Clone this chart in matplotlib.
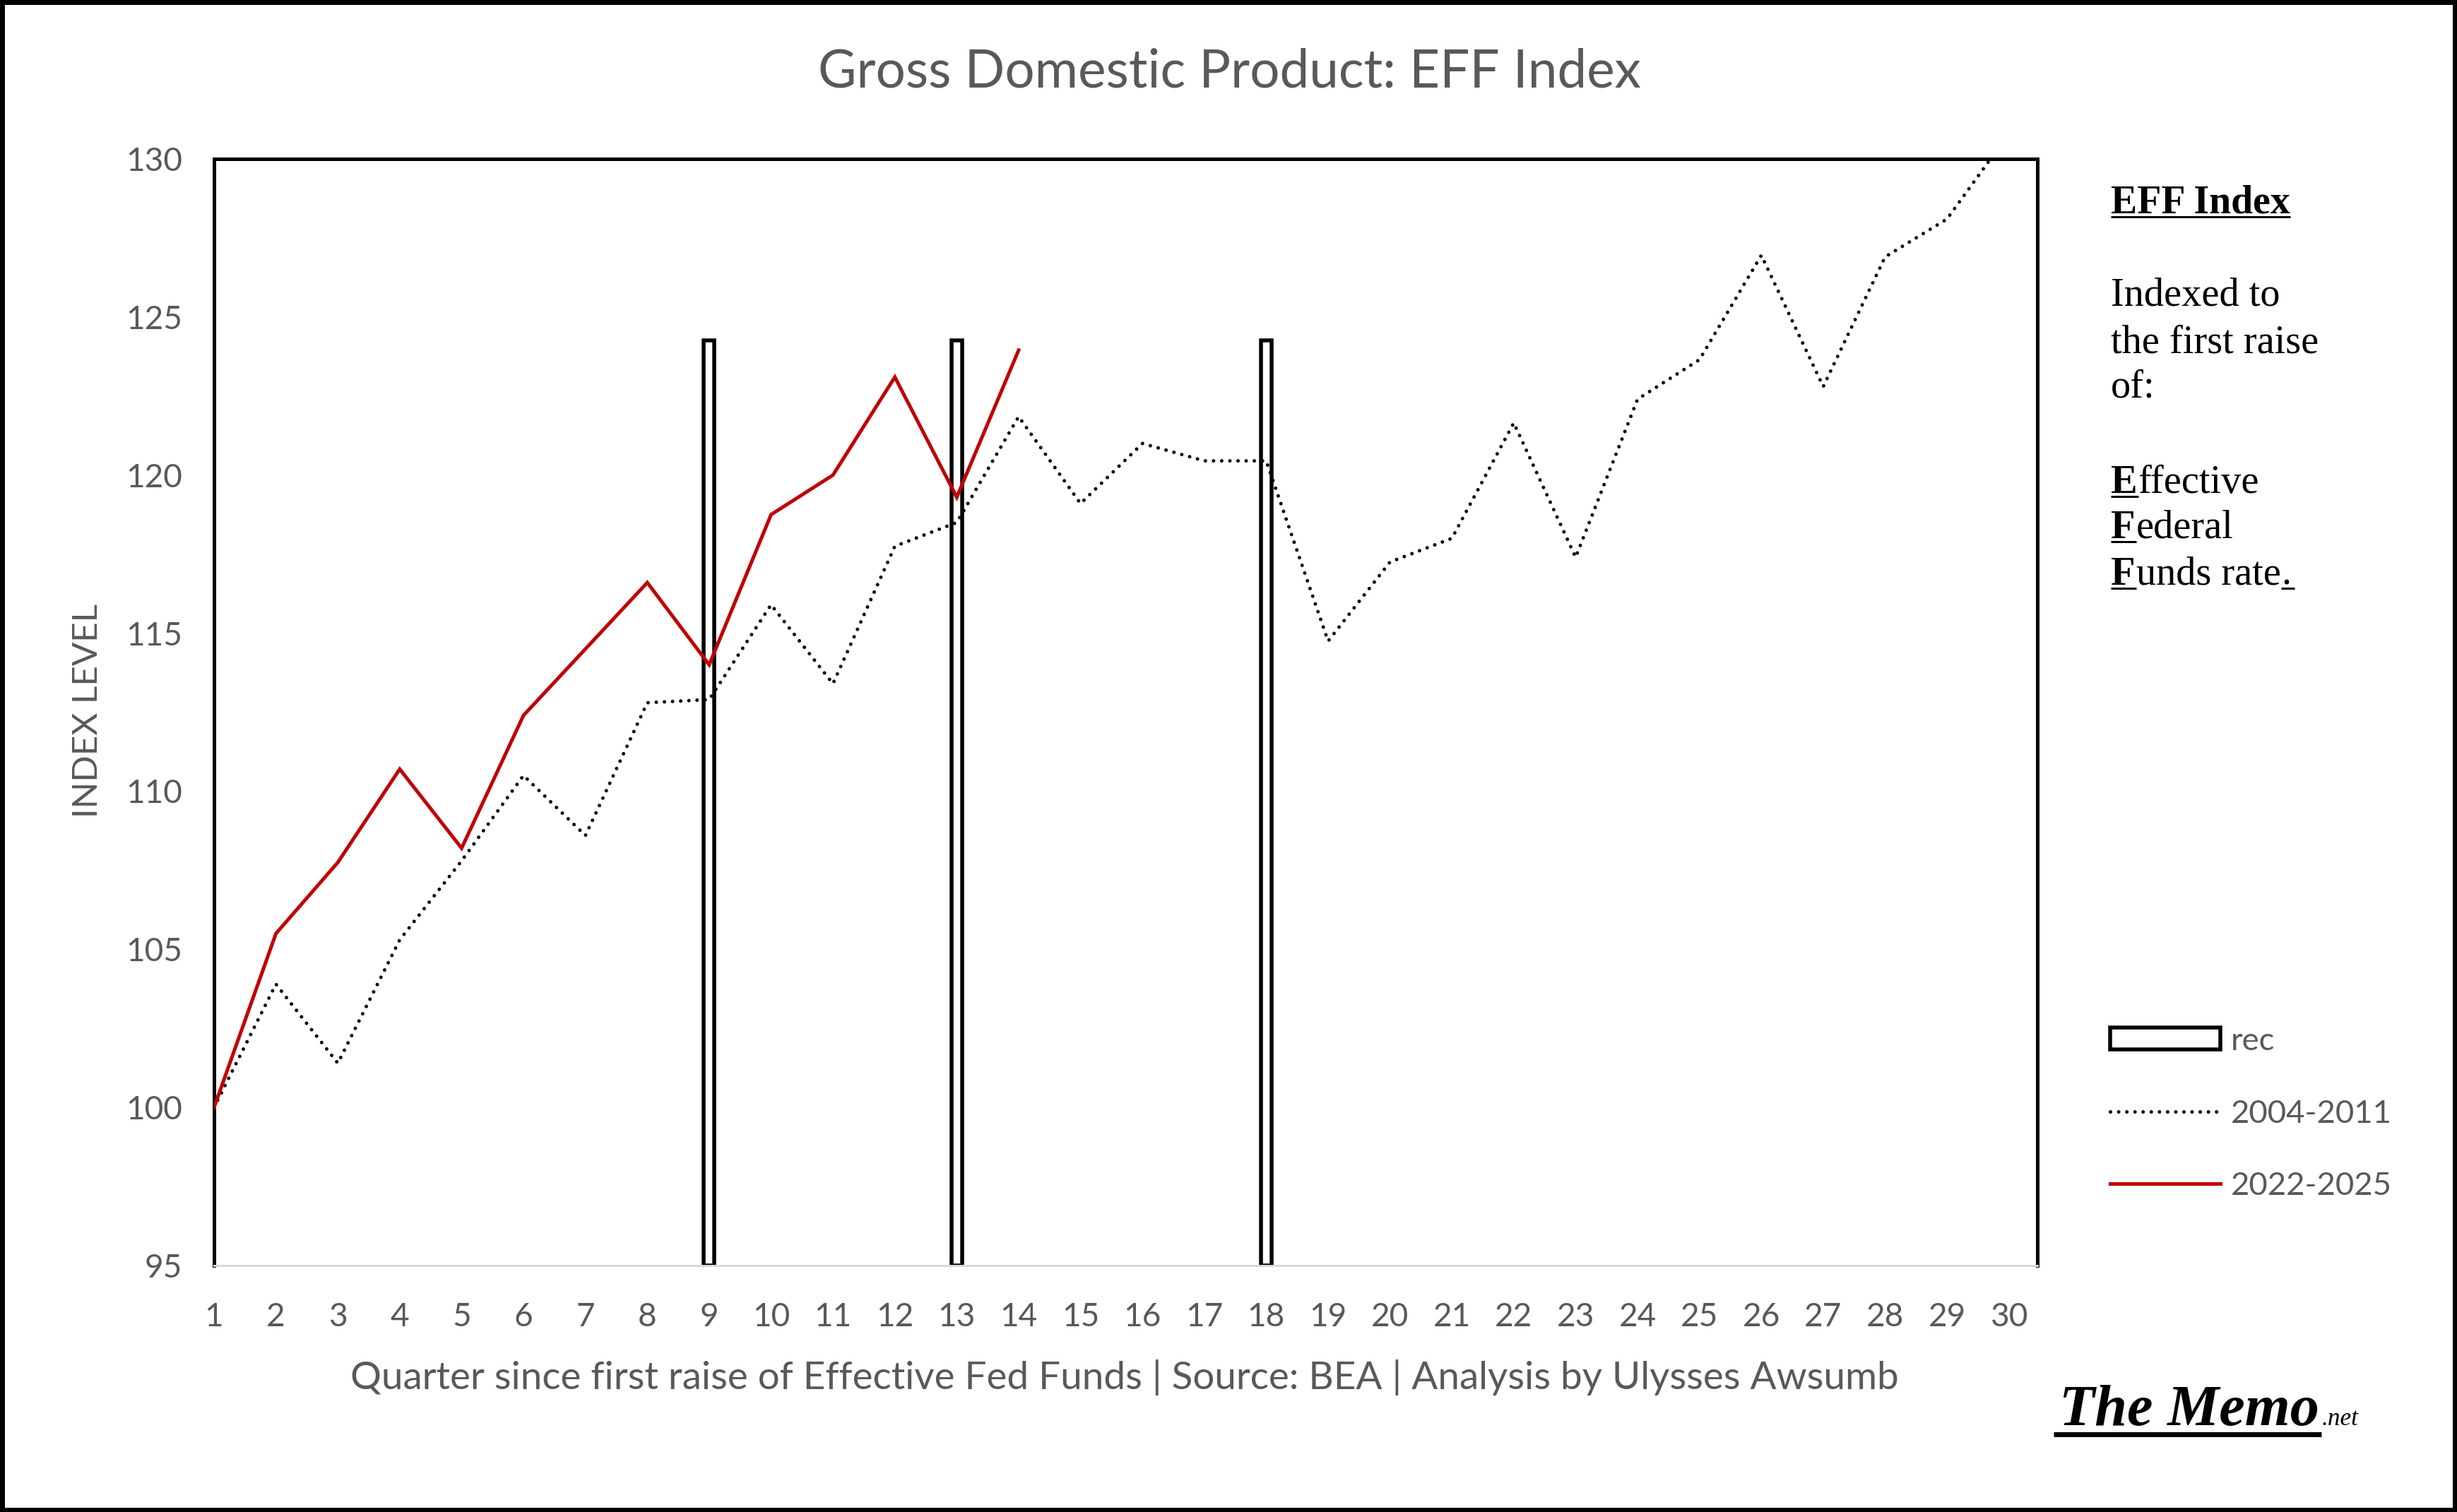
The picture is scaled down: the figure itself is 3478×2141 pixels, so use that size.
import matplotlib
matplotlib.use("Agg")
import matplotlib.pyplot as plt
from matplotlib.lines import Line2D
from matplotlib.patches import Rectangle

W, H, DPI = 3478, 2141, 100

# ---------------- data ----------------
quarters = list(range(1, 31))
gdp_2004_2011 = [100.0, 103.9, 101.4, 105.3, 107.8, 110.5, 108.6, 112.8, 112.9, 115.9,
                 113.4, 117.75, 118.5, 121.85, 119.1, 121.0, 120.45, 120.45, 114.75, 117.25,
                 118.0, 121.65, 117.4, 122.4, 123.65, 126.95, 122.8, 126.9, 128.1, 130.8]
quarters_2022 = list(range(1, 15))
gdp_2022_2025 = [100.0, 105.5, 107.75, 110.7, 108.2, 112.4, 114.5, 116.6, 114.0, 118.75,
                 120.0, 123.1, 119.3, 123.95]
rec_quarters = [9, 13, 18]
rec_level = 124.25
y_ticks = [95, 100, 105, 110, 115, 120, 125, 130]
x_ticks = quarters
series_labels = ["rec", "2004-2011", "2022-2025"]
title = "Gross Domestic Product: EFF Index"
x_label = "Quarter since first raise of Effective Fed Funds | Source: BEA | Analysis by Ulysses Awsumb"
y_label = "INDEX LEVEL"

SANS = "Lato"
SERIF = "Liberation Serif"
GRAY = "#595959"
RED = "#C00000"

plt.rcParams["font.family"] = [SANS, "DejaVu Sans"]

fig = plt.figure(figsize=(W / DPI, H / DPI), dpi=DPI)
fig.patch.set_facecolor("white")
renderer = fig.canvas.get_renderer()


def fx(x):
    return x / W


def fy(y):
    return 1 - y / H


def fit_size(s, target_w, **kw):
    t = fig.text(0, 0, s, fontsize=50, **kw)
    w = t.get_window_extent(renderer).width
    t.remove()
    return 50 * target_w / w


def px_text(x, y, s, **kw):
    return fig.text(fx(x), fy(y), s, **kw)


def width_px(t):
    return t.get_window_extent(renderer).width


def hline(x0, x1, y, lw_px):
    fig.add_artist(Line2D([fx(x0), fx(x1)], [fy(y), fy(y)], transform=fig.transFigure,
                          color="black", linewidth=lw_px * 72 / DPI, solid_capstyle="butt"))


PT = 72 / DPI  # points per pixel

tick_fs = fit_size("130", 80, family=SANS)
title_fs = fit_size(title, 1165, family=SANS)
xlabel_fs = fit_size(x_label, 2191, family=SANS)
ylabel_fs = fit_size(y_label, 304, family=SANS)
legend_fs = fit_size("2004-2011", 228, family=SANS)
serif_fs = fit_size("the first raise", 295, family=SERIF)
bold_fs = fit_size("EFF Index", 254, family=SERIF, weight="bold")
logo_fs = fit_size("The Memo", 368, family=SERIF, weight="bold", style="italic")
net_fs = fit_size(".net", 52, family=SERIF, style="italic")

# ---------------- axes ----------------
ax_l, ax_r, ax_t, ax_b = 303, 2884, 225, 1792
ax = fig.add_axes([fx(ax_l), fy(ax_b), fx(ax_r) - fx(ax_l), fy(ax_t) - fy(ax_b)])
ax.set_facecolor("white")

bars = ax.bar(rec_quarters, [rec_level - y_ticks[0]] * len(rec_quarters), bottom=y_ticks[0],
              width=0.17, facecolor="white", edgecolor="black", linewidth=5.5 * PT, zorder=1)
line_old, = ax.plot(quarters, gdp_2004_2011, color="black", linewidth=5.0 * PT,
                    linestyle=(0, (0.01, 2.3)), dash_capstyle="round", zorder=3)
line_new, = ax.plot(quarters_2022, gdp_2022_2025, color=RED, linewidth=5.0 * PT,
                    solid_joinstyle="miter", zorder=4)

ax.set_xlim(1, 30.46)
ax.set_ylim(y_ticks[0], y_ticks[-1])
ax.set_xticks(x_ticks)
ax.set_yticks(y_ticks)
ax.tick_params(axis="both", length=0, labelsize=tick_fs, labelcolor=GRAY)
ax.tick_params(axis="x", pad=37.5)
ax.tick_params(axis="y", pad=32.5)

for side in ["top", "left", "right"]:
    ax.spines[side].set_color("black")
    ax.spines[side].set_linewidth(5 * PT)
ax.spines["bottom"].set_color("#D9D9D9")
ax.spines["bottom"].set_linewidth(3 * PT)

# ---------------- titles ----------------
px_text(1740, 123, title, ha="center", va="baseline", fontsize=title_fs, color=GRAY, family=SANS)
px_text(1592, 1967, x_label, ha="center", va="baseline", fontsize=xlabel_fs, color=GRAY, family=SANS)
px_text(124, 1006, y_label, ha="center", va="center", rotation=90, fontsize=ylabel_fs,
        color=GRAY, family=SANS)

# ---------------- legend ----------------
fs_px = legend_fs / PT
leg = ax.legend(handles=[bars, line_old, line_new], labels=series_labels,
                loc="center left", bbox_to_anchor=(fx(2987), fy(1577)),
                bbox_transform=fig.transFigure, frameon=False, fontsize=legend_fs,
                labelcolor=GRAY, handlelength=156 / fs_px, handleheight=31 / fs_px,
                handletextpad=15 / fs_px, borderpad=0, borderaxespad=0,
                labelspacing=(104 - 0.93 * fs_px) / fs_px)

# ---------------- side note ----------------
x0 = 2988
t = px_text(x0, 302, "EFF Index", ha="left", va="baseline", fontsize=bold_fs,
            weight="bold", family=SERIF, color="black")
hline(x0, x0 + width_px(t), 307, 3)

for yb, s in [(432.5, "Indexed to"), (499, "the first raise"), (562.6, "of:")]:
    px_text(x0, yb, s, ha="left", va="baseline", fontsize=serif_fs, family=SERIF, color="black")

for yb, cap, rest, dot in [(698, "E", "ffective", ""), (761.6, "F", "ederal", ""),
                           (828, "F", "unds rate", ".")]:
    tc = px_text(x0, yb, cap, ha="left", va="baseline", fontsize=serif_fs, weight="bold",
                 family=SERIF, color="black")
    wc = width_px(tc) + 1
    hline(x0, x0 + wc, yb + 5, 3)
    tr = px_text(x0 + wc, yb, rest, ha="left", va="baseline", fontsize=serif_fs,
                 family=SERIF, color="black")
    if dot:
        xr = x0 + wc + width_px(tr) + 1
        td = px_text(xr, yb, dot, ha="left", va="baseline", fontsize=serif_fs,
                     family=SERIF, color="black")
        hline(xr, xr + width_px(td) + 4, yb + 5, 3)

# ---------------- logo ----------------
px_text(2915, 2018, "The Memo", ha="left", va="baseline", fontsize=logo_fs, weight="bold",
        style="italic", family=SERIF, color="black")
hline(2907, 3286, 2030.5, 7)
px_text(3287, 2018, ".net", ha="left", va="baseline", fontsize=net_fs, style="italic",
        family=SERIF, color="black")

# ---------------- figure border ----------------
fig.add_artist(Rectangle((0, 0), 1, 1, transform=fig.transFigure, fill=False,
                         edgecolor="black", linewidth=13 * PT))

fig.savefig("out.png", dpi=DPI)
